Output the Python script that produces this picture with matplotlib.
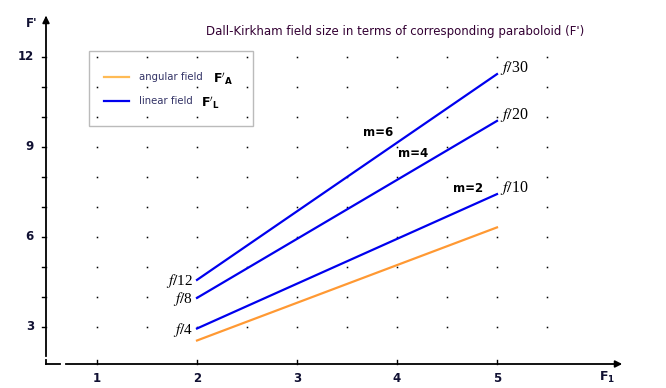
import numpy as np
import matplotlib.pyplot as plt
from matplotlib.patches import Rectangle

plt.rcParams['mathtext.fontset'] = 'stix'

# ---- data ----
F1_ends = [2, 5]
angular = [2.55, 6.32]          # F'_A
lin_m2 = [2.95, 7.43]           # F'_L, m=2
lin_m4 = [3.97, 9.87]           # F'_L, m=4
lin_m6 = [4.57, 11.43]          # F'_L, m=6
left_labels = ['f/4', 'f/8', 'f/12']
right_labels = ['f/10', 'f/20', 'f/30']
m_labels = ['m=2', 'm=4', 'm=6']
m_pos = [(4.71, 7.6), (4.16, 8.77), (3.81, 9.47)]
xticks = [1, 2, 3, 4, 5]
yticks = [3, 6, 9, 12]

orange = '#ff9933'
blue = '#0000ee'

fig = plt.figure(figsize=(6.66, 3.88), dpi=100)
W, H = 666, 388
x0px, x1px = 46, 625
ytop_px, ybot_px = 13, 364
ax = fig.add_axes([x0px / W, (H - ybot_px) / H, (x1px - x0px) / W, (ybot_px - ytop_px) / H])
xlo = 2 + (x0px - 197) / 100
xhi = 2 + (x1px - 197) / 100
ylo = 3 - (ybot_px - 327) / 30
yhi = 3 + (327 - ytop_px) / 30
ax.set_xlim(xlo, xhi)
ax.set_ylim(ylo, yhi)
for s in ax.spines.values():
    s.set_visible(False)
ax.set_xticks([])
ax.set_yticks([])

# dotted grid
gx, gy = np.meshgrid(np.arange(1, 5.51, 0.5), np.arange(3, 12.1, 1))
ax.plot(gx.ravel(), gy.ravel(), 's', color='black', ms=1.1, mew=0, ls='none', zorder=1)

# axes with small breaks
k = dict(color='black', lw=1.3, clip_on=False, zorder=3)
ax.plot([xlo, xlo], [ylo, 1.9], **k)
ax.plot([xlo, xlo], [2.05, yhi - 0.15], **k)
ax.plot([xlo, 0.63], [ylo, ylo], **k)
ax.plot([0.69, xhi - 0.08], [ylo, ylo], **k)
ax.annotate('', xy=(xlo, yhi), xytext=(xlo, yhi - 0.3), annotation_clip=False,
            arrowprops=dict(arrowstyle='-|>', color='black', lw=1.3, mutation_scale=10))
ax.annotate('', xy=(xhi, ylo), xytext=(xhi - 0.1, ylo), annotation_clip=False,
            arrowprops=dict(arrowstyle='-|>', color='black', lw=1.3, mutation_scale=10))

# ticks
for y in np.arange(3, 13, 1):
    ax.plot([xlo - 0.04, xlo], [y, y], color='black', lw=1, clip_on=False)
for x in np.arange(1, 6, 1):
    ax.plot([x, x], [ylo, ylo + 0.13], color='black', lw=1, clip_on=False)
for x in xticks:
    ax.text(x, ylo - 0.25, str(x), ha='center', va='top', fontsize=8.5, fontweight='bold', color='#111133')
for y in yticks:
    ax.text(xlo - 0.12, y, str(y), ha='right', va='center', fontsize=8.5, fontweight='bold', color='#111133')
ax.text(xlo - 0.14, yhi - 0.35, "F'", ha='center', va='center', fontsize=8.5, fontweight='bold', color='#111133')
ax.text(6.1, ylo - 0.45, r'$\mathbf{F_1}$', ha='center', va='center', fontsize=9,
        color='#111133', math_fontfamily='dejavusans')

# lines
ax.plot(F1_ends, angular, color=orange, lw=1.6, zorder=2)
for ys in (lin_m2, lin_m4, lin_m6):
    ax.plot(F1_ends, ys, color=blue, lw=1.6, zorder=2)

for lab, ys in zip(left_labels, (lin_m2, lin_m4, lin_m6)):
    num = lab.split('/')[1]
    ax.text(1.96, ys[0] - 0.05, r'$f/$' + num, ha='right', va='center', fontsize=11, family='Liberation Serif')
for lab, ys in zip(right_labels, (lin_m2, lin_m4, lin_m6)):
    num = lab.split('/')[1]
    ax.text(5.03, ys[1] + 0.2, r'$f/$' + num, ha='left', va='center', fontsize=11.5, family='Liberation Serif')
for lab, (mx, my) in zip(m_labels, m_pos):
    ax.text(mx, my, lab, ha='center', va='center', fontsize=8.5, fontweight='bold')

# legend box
fig.patches.append(Rectangle((89 / W, (H - 126) / H), (253 - 89) / W, (126 - 51) / H,
                             transform=fig.transFigure, fill=False, ec='#bbbbbb', lw=1))
fig.add_artist(plt.Line2D([104 / W, 129 / W], [1 - 77 / H, 1 - 77 / H], color='#ffbb55', lw=1.6))
fig.add_artist(plt.Line2D([104 / W, 129 / W], [1 - 101 / H, 1 - 101 / H], color=blue, lw=1.6))
fig.text(139 / W, 1 - 77 / H, 'angular field', fontsize=7.3, color='#333366', va='center')
fig.text(139 / W, 1 - 101 / H, 'linear field', fontsize=7.3, color='#333366', va='center')
fig.text(213 / W, 1 - 79 / H, r"$\mathbf{F'_A}$", fontsize=9, va='center', math_fontfamily='dejavusans')
fig.text(201 / W, 1 - 103 / H, r"$\mathbf{F'_L}$", fontsize=9, va='center', math_fontfamily='dejavusans')

fig.text(395 / W, 1 - 31 / H, "Dall-Kirkham field size in terms of corresponding paraboloid (F')",
         ha='center', va='center', fontsize=8.5, color='#330033')

fig.savefig('out.png', dpi=100)
